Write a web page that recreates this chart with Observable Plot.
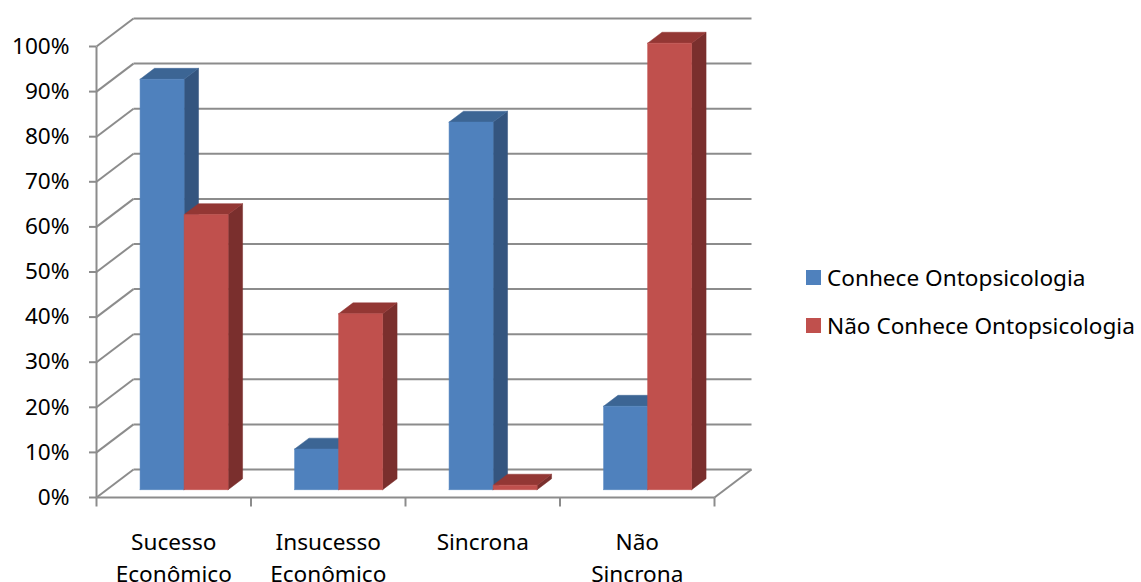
<!DOCTYPE html>
<html>
<head>
<meta charset="utf-8">
<script src="https://cdn.jsdelivr.net/npm/d3@7"></script>
<script src="https://cdn.jsdelivr.net/npm/@observablehq/plot@0.6"></script>
<style>
  body { margin: 0; background: #fff; font-family: "Noto Sans", sans-serif; }
  #wrap { position: relative; width: 1141px; height: 582px; overflow: hidden; }
  #chart { position: absolute; left: 0; top: 0; }
  #legend { position: absolute; left: 806px; top: 265px; }
  .item { display: flex; align-items: center; height: 24px; margin-bottom: 24px; font-size: 22.6px; color: #000; white-space: nowrap; }
  .swatch { width: 15px; height: 15px; margin-right: 6px; flex: none; }
</style>
</head>
<body>
<div id="wrap">
  <div id="chart"></div>
  <div id="legend"></div>
</div>
<script>
// Categories and the two series (share of respondents)
const categories = ["Sucesso\nEconômico", "Insucesso\nEconômico", "Sincrona", "Não\nSincrona"];
const seriesNames = ["Conhece Ontopsicologia", "Não Conhece Ontopsicologia"];
const conhece    = [0.91, 0.09, 0.815, 0.185];
const naoConhece = [0.61, 0.39, 0.01, 0.99];
const yTicks = [0, 0.1, 0.2, 0.3, 0.4, 0.5, 0.6, 0.7, 0.8, 0.9, 1];

// Face colours per series: front, side, top
const palette = [
  {front: "#4f81bd", side: "#34557f", top: "#3c6594"},
  {front: "#c0504d", side: "#7a2f2d", top: "#933734"}
];

// Plot geometry
const W = 790, H = 582;
const mL = 96, mR = 76, mT = 46, mB = 85;
const pxPerCat = (W - mL - mR) / categories.length;
const pxPerUnit = H - mT - mB;
// Depth of the box, expressed in data units (37px right, 28px up)
const DX = 37 / pxPerCat, DY = 28 / pxPerUnit;
const barFront = 0.28, barBack = 0.67;   // bar depth within the box
const pad = 0.215, barW = 0.285;         // bar layout inside a category
const fontSize = 22.6;

const gridColor = "#8c8c8c";

// Build polygon faces for each bar
const faces = {side: [], top: [], front: []};
const values = [conhece, naoConhece];
values.forEach((vals, s) => {
  vals.forEach((v, i) => {
    const x0 = i + pad + s * barW, x1 = x0 + barW;
    const f = (x, y, d) => ({x: x + d * DX, y: y + d * DY});
    const id = `${s}-${i}`;
    const c = palette[s];
    const push = (key, pts) => pts.forEach(p => faces[key].push({...p, id, color: c[key]}));
    push("front", [f(x0, 0, barFront), f(x1, 0, barFront), f(x1, v, barFront), f(x0, v, barFront), f(x0, 0, barFront)]);
    push("side",  [f(x1, 0, barFront), f(x1, 0, barBack), f(x1, v, barBack), f(x1, v, barFront), f(x1, 0, barFront)]);
    push("top",   [f(x0, v, barFront), f(x1, v, barFront), f(x1, v, barBack), f(x0, v, barBack), f(x0, v, barFront)]);
  });
});

const nCat = categories.length;
const faceMark = key => Plot.line(faces[key], {
  x: "x", y: "y", z: "id", fill: "color", stroke: "color", strokeWidth: 0.5, curve: "linear"
});

const chart = Plot.plot({
  width: W, height: H,
  marginLeft: mL, marginRight: mR, marginTop: mT, marginBottom: mB,
  x: {domain: [0, nCat], axis: null},
  y: {domain: [0, 1], axis: null},
  color: {type: "identity"},
  style: {fontFamily: "Noto Sans, sans-serif", fontSize: `${fontSize}px`, color: "#000", background: "#fff"},
  marks: [
    // back wall gridlines
    Plot.link(yTicks, {x1: DX, x2: nCat + DX, y1: d => d + DY, y2: d => d + DY, stroke: gridColor, strokeWidth: 2}),
    // side wall diagonals
    Plot.link(yTicks, {x1: 0, x2: DX, y1: d => d, y2: d => d + DY, stroke: gridColor, strokeWidth: 2}),
    // floor: front edge and right edge
    Plot.link([0], {x1: 0, x2: nCat, y1: 0, y2: 0, stroke: gridColor, strokeWidth: 2}),
    Plot.link([0], {x1: nCat, x2: nCat + DX, y1: 0, y2: DY, stroke: gridColor, strokeWidth: 2}),
    // front vertical axis
    Plot.link([0], {x1: 0, x2: 0, y1: 0, y2: 1, stroke: gridColor, strokeWidth: 2}),
    // category separators below the floor
    Plot.link(d3.range(nCat + 1), {x1: d => d, x2: d => d, y1: 0, y2: -9 / pxPerUnit, stroke: gridColor, strokeWidth: 2}),
    // y axis ticks and labels
    Plot.axisY(yTicks, {tickFormat: d3.format(".0%"), tickSize: 7, tickPadding: 20, label: null, stroke: gridColor, strokeWidth: 2, fill: "#000", fontSize}),
    // bars
    faceMark("side"),
    faceMark("top"),
    faceMark("front"),
    // category labels
    Plot.text(categories, {x: (d, i) => i + 0.5, y: 0, text: d => d, dy: 30, lineAnchor: "top", lineHeight: 1.42, fontSize, fill: "#000"})
  ]
});
document.getElementById("chart").appendChild(chart);

// legend
const legend = document.getElementById("legend");
seriesNames.forEach((name, s) => {
  const item = document.createElement("div");
  item.className = "item";
  const sw = document.createElement("span");
  sw.className = "swatch";
  sw.style.background = palette[s].front;
  const label = document.createElement("span");
  label.textContent = name;
  item.appendChild(sw);
  item.appendChild(label);
  legend.appendChild(item);
});
</script>
</body>
</html>
